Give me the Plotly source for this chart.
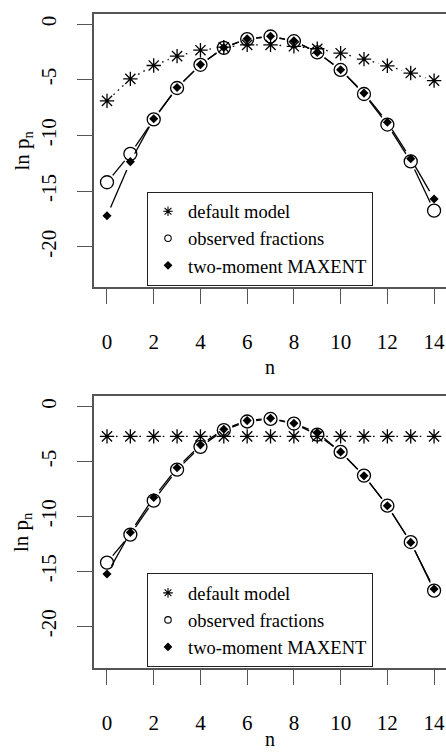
import math
import plotly.graph_objects as go

# occupation number n
n = [0, 1, 2, 3, 4, 5, 6, 7, 8, 9, 10, 11, 12, 13, 14]
x_ticks = [0, 2, 4, 6, 8, 10, 12, 14]
x_tick_labels = ["0", "2", "4", "6", "8", "10", "12", "14"]
y_ticks = [0, -5, -10, -15, -20]
y_tick_labels = ["0", "-5", "-10", "-15", "-20"]

# ln p_n of the observed fractions (same sample in both panels)
observed = [-14.2, -11.65, -8.56, -5.74, -3.66, -2.14, -1.35, -1.12, -1.54,
            -2.55, -4.12, -6.28, -9.02, -12.33, -16.75]

# upper panel: peaked default model and its two-moment MAXENT estimate
default_top = [-6.9, -4.92, -3.72, -2.88, -2.35, -2.08, -1.87, -1.87, -2.0,
               -2.22, -2.62, -3.15, -3.75, -4.4, -5.08]
maxent_top = [-17.2, -12.35, -8.5, -5.7, -3.64, -2.1, -1.33, -1.1, -1.5,
              -2.55, -4.1, -6.2, -8.82, -12.08, -15.7]

# lower panel: flat default model and its two-moment MAXENT estimate
default_bottom = [-2.71, -2.71, -2.71, -2.71, -2.71, -2.71, -2.71, -2.71,
                  -2.71, -2.71, -2.71, -2.71, -2.71, -2.71, -2.71]
maxent_bottom = [-15.24, -11.45, -8.27, -5.57, -3.48, -2.06, -1.27, -1.06,
                 -1.51, -2.36, -4.12, -6.3, -9.03, -12.36, -16.6]

legend_names = ["default model", "observed fractions", "two-moment MAXENT"]

# ---- page geometry (pixels) ----
W, H = 446, 752
M_L, M_R, M_T, M_B = 94, 0, 14, 84
PW = W - M_L - M_R
PH = H - M_T - M_B
X_RANGE = [-0.556, 14.51]
FONT = "Liberation Serif"
AXIS_GREY = "#555555"
TICK_SIZE = 21

panels = [
    dict(top=14, bottom=287, yrange=[-23.6, 0.9], title_gap=80,
         default=default_top, maxent=maxent_top, legend_top=191.7),
    dict(top=396, bottom=668, yrange=[-23.8, 0.97], title_gap=71,
         default=default_bottom, maxent=maxent_bottom, legend_top=573.3),
]


def paper_y(py):
    return (H - M_B - py) / PH


def paper_x(px):
    return (px - M_L) / PW


def gapped(xs, ys, sx, sy, gap):
    """Segments between consecutive points, broken around each point."""
    gx, gy = [], []
    for i in range(len(xs) - 1):
        x0, y0, x1, y1 = xs[i], ys[i], xs[i + 1], ys[i + 1]
        length = math.hypot((x1 - x0) * sx, (y1 - y0) * sy)
        if length <= 2 * gap:
            continue
        f = gap / length
        gx += [x0 + (x1 - x0) * f, x1 - (x1 - x0) * f, None]
        gy += [y0 + (y1 - y0) * f, y1 - (y1 - y0) * f, None]
    return gx, gy


fig = go.Figure()
layout = dict(
    width=W, height=H,
    margin=dict(l=M_L, r=M_R, t=M_T, b=M_B),
    paper_bgcolor="white", plot_bgcolor="white",
    font=dict(family=FONT, size=19, color="black"),
    showlegend=True,
    annotations=[],
)

for k, p in enumerate(panels):
    suffix = "" if k == 0 else str(k + 1)
    xa, ya = "x" + suffix, "y" + suffix
    leg = "legend" + suffix
    sx = PW / (X_RANGE[1] - X_RANGE[0])
    sy = (p["bottom"] - p["top"]) / (p["yrange"][1] - p["yrange"][0])

    # connecting lines with gaps around the symbols
    for ys, dash in ((p["default"], "1.6px,4.4px"), (observed, "solid"),
                     (p["maxent"], "solid")):
        gx, gy = gapped(n, ys, sx, sy, 9)
        fig.add_trace(go.Scatter(
            x=gx, y=gy, mode="lines", xaxis=xa, yaxis=ya, showlegend=False,
            hoverinfo="skip", line=dict(color="black", width=1.3, dash=dash)))

    # symbols
    fig.add_trace(go.Scatter(
        x=n, y=p["default"], mode="markers", xaxis=xa, yaxis=ya,
        showlegend=False, name=legend_names[0],
        marker=dict(symbol="asterisk-open", size=12, color="black",
                    line=dict(color="black", width=1.3))))
    fig.add_trace(go.Scatter(
        x=n, y=observed, mode="markers", xaxis=xa, yaxis=ya,
        showlegend=False, name=legend_names[1],
        marker=dict(symbol="circle-open", size=13, color="black",
                    line=dict(color="black", width=1.3))))
    fig.add_trace(go.Scatter(
        x=n, y=p["maxent"], mode="markers", xaxis=xa, yaxis=ya,
        showlegend=False, name=legend_names[2],
        marker=dict(symbol="diamond", size=7, color="black")))

    # legend entries with small symbols
    for name, sym, size in zip(legend_names,
                               ("asterisk-open", "circle-open", "diamond"),
                               (8, 6.5, 5.5)):
        fig.add_trace(go.Scatter(
            x=[None], y=[None], mode="markers", xaxis=xa, yaxis=ya,
            name=name, legend=leg,
            marker=dict(symbol=sym, size=size, color="black",
                        line=dict(color="black", width=1.1))))

    layout["xaxis" + suffix] = dict(
        domain=[0, 1], anchor=ya, range=X_RANGE,
        tickmode="array", tickvals=x_ticks, ticktext=x_tick_labels,
        ticks="outside", ticklen=15, tickwidth=1.4, tickcolor=AXIS_GREY,
        ticklabelstandoff=20,
        showline=True, mirror=True, linecolor=AXIS_GREY, linewidth=1.5,
        showgrid=False, zeroline=False,
        tickfont=dict(family=FONT, size=TICK_SIZE, color="black"))
    layout["yaxis" + suffix] = dict(
        domain=[paper_y(p["bottom"]), paper_y(p["top"])], anchor=xa,
        range=p["yrange"],
        tickmode="array", tickvals=y_ticks, ticktext=y_tick_labels,
        tickangle=-90,
        ticks="outside", ticklen=15, tickwidth=1.4, tickcolor=AXIS_GREY,
        ticklabelstandoff=13,
        showline=True, mirror=False, linecolor=AXIS_GREY, linewidth=1.5,
        showgrid=False, zeroline=False,
        tickfont=dict(family=FONT, size=TICK_SIZE, color="black"))
    layout[leg] = dict(
        x=paper_x(147), y=paper_y(p["legend_top"]),
        xanchor="left", yanchor="top",
        bgcolor="white", bordercolor="#222222", borderwidth=1,
        font=dict(family=FONT, size=18.5, color="black"),
        itemwidth=30, tracegroupgap=0)

    mid = (p["top"] + p["bottom"]) / 2
    layout["annotations"].append(dict(
        text="ln p<sub>n</sub>", textangle=-90, showarrow=False,
        xref="paper", yref="paper", x=paper_x(22), y=paper_y(mid),
        xanchor="center", yanchor="middle",
        font=dict(family=FONT, size=21, color="black")))
    layout["annotations"].append(dict(
        text="n", showarrow=False,
        xref="paper", yref="paper", x=0.5,
        y=paper_y(p["bottom"] + p["title_gap"]),
        xanchor="center", yanchor="middle",
        font=dict(family=FONT, size=20, color="black")))

fig.update_layout(**layout)
fig.write_html("out.html")
